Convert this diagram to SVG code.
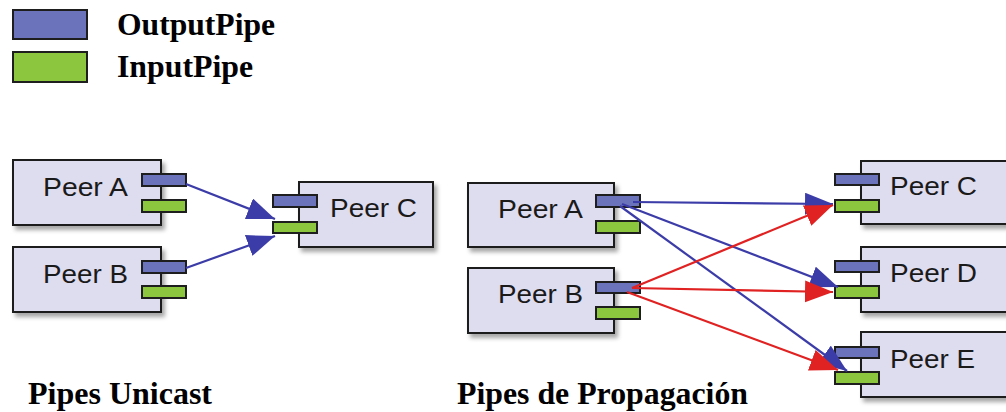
<svg xmlns="http://www.w3.org/2000/svg" width="1006" height="412" viewBox="0 0 1006 412">
<style>
.box{fill:#dedcef;stroke:#1e1e1e;stroke-width:2}
.out{fill:#6b74bb;stroke:#1e1e1e;stroke-width:2}
.in{fill:#8cc63f;stroke:#1e1e1e;stroke-width:2}
.lbl{font-family:"Liberation Sans",Arial,sans-serif;font-size:26px;fill:#1a1a1a}
.title{font-family:"Liberation Serif","Times New Roman",serif;font-size:31px;font-weight:bold;fill:#000}
.big{font-size:32px}
.blue{stroke:#3c3ca8;stroke-width:2.2;fill:none}
.red{stroke:#e02222;stroke-width:2.2;fill:none}
</style>
<defs>
<filter id="sh" x="-10%" y="-10%" width="130%" height="140%">
<feDropShadow dx="3" dy="4" stdDeviation="2" flood-color="#000" flood-opacity="0.35"/>
</filter>
<marker id="ab" markerUnits="userSpaceOnUse" markerWidth="30" markerHeight="24" refX="28" refY="11" orient="auto">
<path d="M0,0 L28,11 L0,22 Z" fill="#3c3ca8"/>
</marker>
<marker id="ar" markerUnits="userSpaceOnUse" markerWidth="30" markerHeight="24" refX="28" refY="11" orient="auto">
<path d="M0,0 L28,11 L0,22 Z" fill="#e02222"/>
</marker>
</defs>
<rect width="1006" height="412" fill="#fff"/>

<g id="legend">
<rect class="out" x="13" y="10" width="74" height="29"/>
<rect class="in" x="13" y="52" width="74" height="30"/>
<text class="title" x="117" y="35" textLength="158" lengthAdjust="spacingAndGlyphs">OutputPipe</text>
<text class="title" x="117" y="77" textLength="136" lengthAdjust="spacingAndGlyphs">InputPipe</text>
</g>

<g id="u-peerA">
<rect class="box" x="13" y="160" width="148" height="65" filter="url(#sh)"/>
<rect class="out" x="142" y="174" width="44" height="12"/>
<rect class="in" x="142" y="200" width="44" height="12"/>
<text class="lbl" x="43" y="196" textLength="85" lengthAdjust="spacingAndGlyphs">Peer A</text>
</g>
<g id="u-peerB">
<rect class="box" x="13" y="247" width="148" height="65" filter="url(#sh)"/>
<rect class="out" x="142" y="261" width="44" height="12"/>
<rect class="in" x="142" y="286" width="44" height="12"/>
<text class="lbl" x="43" y="283" textLength="85" lengthAdjust="spacingAndGlyphs">Peer B</text>
</g>
<g id="u-peerC">
<rect class="box" x="299" y="182" width="134" height="65" filter="url(#sh)"/>
<rect class="out" x="273" y="195" width="44" height="12"/>
<rect class="in" x="273" y="222" width="44" height="11"/>
<text class="lbl" x="330" y="217" textLength="87" lengthAdjust="spacingAndGlyphs">Peer C</text>
</g>

<g id="p-peerA">
<rect class="box" x="468" y="183" width="146" height="64" filter="url(#sh)"/>
<rect class="out" x="596" y="195" width="44" height="12"/>
<rect class="in" x="596" y="221" width="44" height="12"/>
<text class="lbl" x="498" y="218" textLength="85" lengthAdjust="spacingAndGlyphs">Peer A</text>
</g>
<g id="p-peerB">
<rect class="box" x="468" y="268" width="146" height="65" filter="url(#sh)"/>
<rect class="out" x="596" y="282" width="44" height="11"/>
<rect class="in" x="596" y="307" width="44" height="12"/>
<text class="lbl" x="498" y="303" textLength="85" lengthAdjust="spacingAndGlyphs">Peer B</text>
</g>
<g id="p-peerC">
<rect class="box" x="861" y="161" width="150" height="63" filter="url(#sh)"/>
<rect class="out" x="835" y="174" width="44" height="11"/>
<rect class="in" x="835" y="200" width="44" height="12"/>
<text class="lbl" x="890" y="195" textLength="87" lengthAdjust="spacingAndGlyphs">Peer C</text>
</g>
<g id="p-peerD">
<rect class="box" x="861" y="247" width="150" height="65" filter="url(#sh)"/>
<rect class="out" x="835" y="261" width="44" height="11"/>
<rect class="in" x="835" y="286" width="44" height="12"/>
<text class="lbl" x="890" y="282" textLength="87" lengthAdjust="spacingAndGlyphs">Peer D</text>
</g>
<g id="p-peerE">
<rect class="box" x="861" y="332" width="150" height="65" filter="url(#sh)"/>
<rect class="out" x="835" y="347" width="44" height="11"/>
<rect class="in" x="835" y="372" width="44" height="12"/>
<text class="lbl" x="890" y="368" textLength="85" lengthAdjust="spacingAndGlyphs">Peer E</text>
</g>

<g id="connectors">
<line class="blue" x1="186" y1="184" x2="275" y2="219" marker-end="url(#ab)"/>
<line class="blue" x1="186" y1="268" x2="275" y2="236" marker-end="url(#ab)"/>

<line class="blue" x1="633" y1="202" x2="833" y2="204" marker-end="url(#ab)"/>
<line class="blue" x1="622" y1="204" x2="838" y2="287" marker-end="url(#ab)"/>
<line class="blue" x1="620" y1="206" x2="847" y2="371" marker-end="url(#ab)"/>
<line class="red" x1="632" y1="288" x2="833" y2="205" marker-end="url(#ar)"/>
<line class="red" x1="632" y1="288" x2="833" y2="292" marker-end="url(#ar)"/>
<line class="red" x1="627" y1="292" x2="838" y2="370" marker-end="url(#ar)"/>
</g>

<g id="titles">
<text class="title big" x="28" y="404" textLength="184" lengthAdjust="spacingAndGlyphs">Pipes Unicast</text>
<text class="title big" x="457" y="404" textLength="291" lengthAdjust="spacingAndGlyphs">Pipes de Propagación</text>
</g>
</svg>
